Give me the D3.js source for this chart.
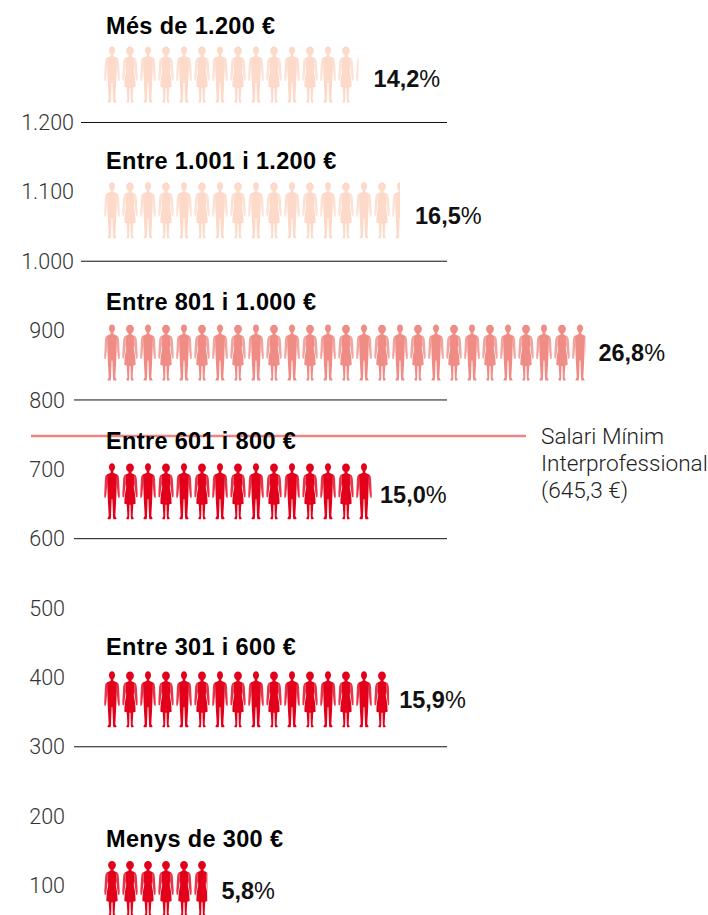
<!DOCTYPE html>
<html><head><meta charset="utf-8">
<style>html,body{margin:0;padding:0;background:#fff;overflow:hidden}svg{display:block}</style>
<script src="https://cdn.jsdelivr.net/npm/d3@7"></script></head>
<body><svg id="c" width="708" height="915"></svg>
<script>
const categories=["Més de 1.200 €","Entre 1.001 i 1.200 €","Entre 801 i 1.000 €","Entre 601 i 800 €","Entre 301 i 600 €","Menys de 300 €"];
const shares=[14.2,16.5,26.8,15.0,15.9,5.8];
const shareLabels=["14,2","16,5","26,8","15,0","15,9","5,8"];
const rowBase=[1229,1033,828,628,328,55];
const rowColors=["#fdd9ca","#fdd9ca","#ef8c86","#e2001a","#e2001a","#e2001a"];
const rowPatterns=["mw","mw","mw","mw","mw","w"];
const labelGaps=[15,15,13,7,10,14];
const titleGaps=[12,13,15,14,16,14];
const shareDrops=[41,42,36,40,37,38];
const tickValues=[1200,1100,1000,900,800,700,600,500,400,300,200,100];
const gridValues=[1200,1000,800,600,300];
const salaryLineValue=748;
const salaryLabel=["Salari Mínim","Interprofessional","(645,3 €)"];

const svg=d3.select("#c");
const y=d3.scaleLinear().domain([100,1200]).range([885.5,122.5]);
const x=d3.scaleLinear().domain([0,30]).range([103,643]);
const sans="'Liberation Sans',Arial,sans-serif", light="Roboto,'Liberation Sans',sans-serif";

const manBody="M8 0C6.3 0 5 1.5 5 3.8C5 5.5 5.7 6.9 6.7 7.6L6.7 9.5C5.4 10.3 4 10.6 3 11.2L3.3 21L3.6 31L4 40L4.7 52.6L3.4 55.2L3.9 56L6.7 56L7 53L7.6 36L8.4 36L9 53L9.3 56L12.1 56L12.6 55.2L11.3 52.6L12 40L12.4 31L12.7 21L13 11.2C12 10.6 10.6 10.3 9.3 9.5L9.3 7.6C10.3 6.9 11 5.5 11 3.8C11 1.5 9.7 0 8 0Z";
const manArms="M3 11.2C1.6 11.6 1 13 .9 16.5L.2 31.5L.4 34.5L1.6 34.5L2.3 31.5L3.3 21ZM13 11.2C14.4 11.6 15 13 15.1 16.5L15.8 31.5L15.6 34.5L14.4 34.5L13.7 31.5L12.7 21Z";
const womanBody="M8 .2C5.8 .2 4.1 1.9 4.1 4.4C4.1 6.3 5.1 7.8 6.5 8.6L6.5 10C5.4 10.7 4.2 10.9 3.2 11.5C3.5 15 3.8 18 4 21C4.2 23 4.3 24.5 3.9 26C3.2 29 2.5 33 2.4 40.4L4.7 41L5.4 52.8L4.2 55.3L4.7 56L7 56L7.2 53L7.5 41.5L8.5 41.5L8.8 53L9 56L11.3 56L11.8 55.3L10.6 52.8L11.3 41L13.6 40.4C13.5 33 12.8 29 12.1 26C11.7 24.5 11.8 23 12 21C12.2 18 12.5 15 12.8 11.5C11.8 10.9 10.6 10.7 9.5 10L9.5 8.6C10.9 7.8 11.9 6.3 11.9 4.4C11.9 1.9 10.2 .2 8 .2Z";
const womanArms="M3.2 11.5C1.9 12 1.3 13.5 1.1 17L.3 30.5L.6 34L1.9 34L2.6 30L3.9 20ZM12.8 11.5C14.1 12 14.7 13.5 14.9 17L15.7 30.5L15.4 34L14.1 34L13.4 30L12.1 20Z";

// salary line sits behind the texts
svg.append("line").attr("x1",31).attr("x2",526).attr("y1",y(salaryLineValue)).attr("y2",y(salaryLineValue))
  .attr("stroke","#ef8583").attr("stroke-width",2.5);

svg.selectAll("line.grid").data(gridValues).join("line").attr("class","grid")
  .attr("x1",d=>d>=1000?81:74).attr("x2",447).attr("y1",d=>y(d)).attr("y2",d=>y(d))
  .attr("stroke","#111").attr("stroke-width",1);

const fmt=d=>d3.format(",")(d).replace(",",".");
const axis=d3.axisLeft(y).tickValues(tickValues).tickFormat(fmt).tickSize(0).tickPadding(0);
const ag=svg.append("g").attr("transform","translate(65,0)").call(axis);
ag.select(".domain").remove();
ag.selectAll("text").attr("font-family",light).attr("font-weight",300).attr("font-size",21.5)
  .attr("fill","#333").attr("dx",d=>d>=1000?9:0).attr("dy",".33em");

const defs=svg.append("defs");
const rows=svg.selectAll("g.row").data(categories.map((c,i)=>({c,i,share:shares[i]}))).join("g").attr("class","row");
rows.each(function(d){
  const g=d3.select(this), base=y(rowBase[d.i]), top=base-56, n=Math.ceil(d.share);
  const end=x(d.share);
  defs.append("clipPath").attr("id","clip"+d.i).append("rect").attr("x",x(0)).attr("y",top-1).attr("width",end-x(0)).attr("height",58);
  const isW=k=>rowPatterns[d.i]==="w"||k%2===1;
  const figs=g.append("g").attr("clip-path",`url(#clip${d.i})`).selectAll("g").data(d3.range(n)).join("g")
    .attr("transform",k=>`translate(${x(k)+1},${top})`).attr("fill",rowColors[d.i]);
  figs.append("path").attr("d",k=>isW(k)?womanBody:manBody);
  figs.append("path").attr("d",k=>isW(k)?womanArms:manArms).attr("fill-opacity",.8);
  g.append("text").text(d.c).attr("x",106).attr("y",top-titleGaps[d.i]).attr("font-family",sans).attr("font-weight",700)
    .attr("font-size",23.5).attr("letter-spacing",.35).attr("fill","#000");
  const t=g.append("text").attr("x",end+labelGaps[d.i]).attr("y",top+shareDrops[d.i]).attr("font-family",sans).attr("font-size",23.5).attr("fill","#111");
  t.append("tspan").attr("font-weight",700).text(shareLabels[d.i]);
  t.append("tspan").attr("font-weight",400).text("%");
});

svg.append("g").selectAll("text").data(salaryLabel).join("text").text(d=>d)
  .attr("x",541).attr("y",(d,i)=>444+i*27).attr("font-family",light).attr("font-weight",300)
  .attr("font-size",22.6).attr("fill","#222");
</script></body></html>
